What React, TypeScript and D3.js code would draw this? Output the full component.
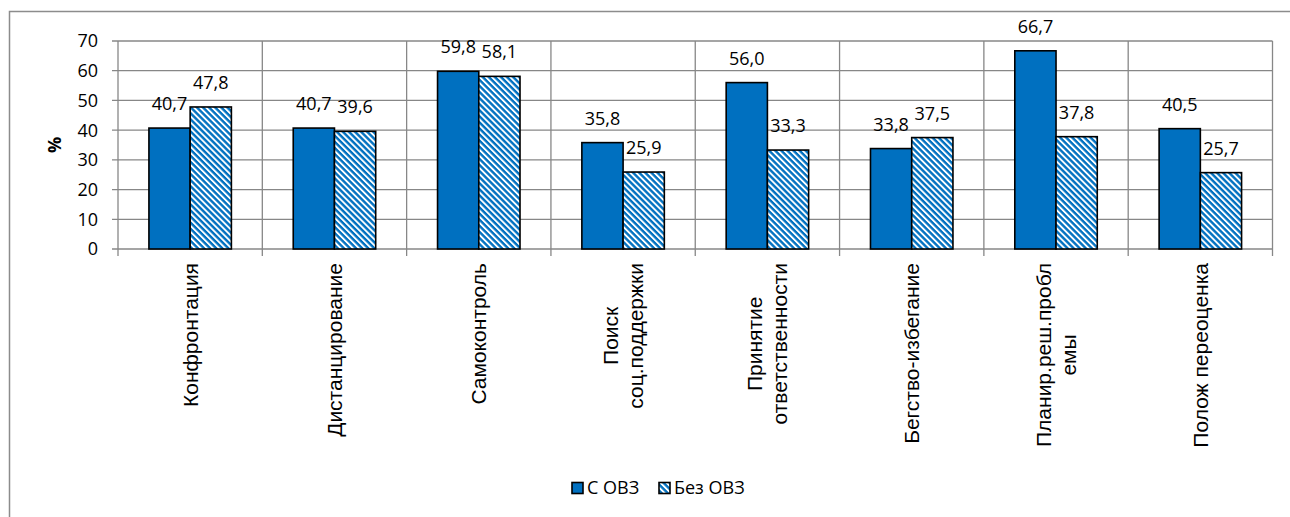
import React, { useEffect, useRef } from "react";
import * as d3 from "d3";

// Coping strategy categories (label lines as wrapped on the axis)
const categories: string[][] = [
  ["Конфронтация"],
  ["Дистанцирование"],
  ["Самоконтроль"],
  ["Поиск", "соц.поддержки"],
  ["Принятие", "ответственности"],
  ["Бегство-избегание"],
  ["Планир.реш.пробл", "емы"],
  ["Полож переоценка"],
];

const seriesNames: string[] = ["С ОВЗ", "Без ОВЗ"];
const withOvz: number[] = [40.7, 40.7, 59.8, 35.8, 56.0, 33.8, 66.7, 40.5];
const withoutOvz: number[] = [47.8, 39.6, 58.1, 25.9, 33.3, 37.5, 37.8, 25.7];
const yTicks: number[] = [0, 10, 20, 30, 40, 50, 60, 70];

const W = 1290;
const H = 517;
const BLUE = "#0070C0";
const GRID = "#878787";
const NUM_FONT = "'Open Sans', 'Noto Sans', sans-serif";
const CAT_FONT = "'Liberation Sans', Arial, sans-serif";

export default function App() {
  const ref = useRef<SVGSVGElement | null>(null);

  useEffect(() => {
    const svg = d3.select(ref.current);
    svg.selectAll("*").remove();

    const left = 118;
    const right = 1272.5;
    const top = 41;
    const bottom = 249;

    const defs = svg.append("defs");
    const pat = defs
      .append("pattern")
      .attr("id", "hatch")
      .attr("patternUnits", "userSpaceOnUse")
      .attr("width", 4.3)
      .attr("height", 4.3)
      .attr("patternTransform", "rotate(45)");
    pat.append("rect").attr("width", 4.3).attr("height", 4.3).attr("fill", "#ffffff");
    pat.append("rect").attr("width", 4.3).attr("height", 2.4).attr("fill", BLUE);

    svg.append("rect").attr("width", W).attr("height", H).attr("fill", "#ffffff");

    // outer frame (left and top edges)
    svg
      .append("path")
      .attr("d", `M9.5,${H} V11.5 H${W}`)
      .attr("fill", "none")
      .attr("stroke", "#8c8c8c")
      .attr("stroke-width", 1.5);

    const x = d3
      .scaleBand<number>()
      .domain(d3.range(categories.length))
      .range([left, right])
      .padding(0);
    const xs = d3
      .scaleBand<number>()
      .domain([0, 1])
      .range([0, x.bandwidth()])
      .paddingInner(0)
      .paddingOuter(0.75);
    const y = d3.scaleLinear().domain([0, 70]).range([bottom, top]);

    const g = svg.append("g");

    // horizontal gridlines + y ticks
    yTicks.forEach((t) => {
      g.append("line")
        .attr("x1", left - 6)
        .attr("x2", right)
        .attr("y1", y(t))
        .attr("y2", y(t))
        .attr("stroke", GRID)
        .attr("stroke-width", 1.3);
      g.append("text")
        .attr("x", 98)
        .attr("y", y(t))
        .attr("dy", "0.36em")
        .attr("text-anchor", "end")
        .attr("font-family", NUM_FONT)
        .attr("font-size", 18)
        .attr("fill", "#000")
        .text(String(t));
    });

    // vertical gridlines at category boundaries, extending as ticks below the axis
    for (let i = 0; i <= categories.length; i++) {
      const bx = i === categories.length ? right : x(i)!;
      g.append("line")
        .attr("x1", bx)
        .attr("x2", bx)
        .attr("y1", top)
        .attr("y2", bottom + 7)
        .attr("stroke", GRID)
        .attr("stroke-width", 1.3);
    }

    // y axis title
    g.append("text")
      .attr("transform", `translate(61,${(top + bottom) / 2}) rotate(-90)`)
      .attr("text-anchor", "middle")
      .attr("font-family", NUM_FONT)
      .attr("font-weight", "bold")
      .attr("font-size", 18)
      .text("%");

    const fmt = (v: number) => d3.format(".1f")(v).replace(".", ",");
    const series = [withOvz, withoutOvz];
    const fills = [BLUE, "url(#hatch)"];

    series.forEach((vals, si) => {
      vals.forEach((v, ci) => {
        const bx = x(ci)! + xs(si)!;
        g.append("rect")
          .attr("x", bx)
          .attr("y", y(v))
          .attr("width", xs.bandwidth())
          .attr("height", y(0) - y(v))
          .attr("fill", fills[si])
          .attr("stroke", "#000")
          .attr("stroke-width", 1.6);
      });
    });

    series.forEach((vals, si) => {
      vals.forEach((v, ci) => {
        const cx = x(ci)! + xs(si)! + xs.bandwidth() / 2;
        g.append("text")
          .attr("x", cx)
          .attr("y", y(v) - 18)
          .attr("text-anchor", "middle")
          .attr("font-family", NUM_FONT)
          .attr("font-size", 18)
          .attr("fill", "#000")
          .text(fmt(v));
      });
    });

    // rotated category labels, lines centred on each other, block ending under the axis
    categories.forEach((lines, ci) => {
      const cx = x(ci)! + x.bandwidth() / 2;
      const lg = g.append("g").attr("transform", `translate(${cx},263) rotate(-90)`);
      const texts = lines.map((ln, li) =>
        lg
          .append("text")
          .attr("y", 7.5 + (li - (lines.length - 1) / 2) * 25)
          .attr("text-anchor", "middle")
          .attr("font-family", CAT_FONT)
          .attr("font-size", 21)
          .attr("fill", "#000")
          .text(ln)
      );
      const maxLen = d3.max(texts, (t) => (t.node() as SVGTextElement).getComputedTextLength()) || 0;
      texts.forEach((t) => t.attr("x", -maxLen / 2));
    });

    // legend
    const lgY = 488;
    const items = [
      { x: 572, fill: BLUE, label: seriesNames[0] },
      { x: 659, fill: "url(#hatch)", label: seriesNames[1] },
    ];
    items.forEach((it) => {
      g.append("rect")
        .attr("x", it.x)
        .attr("y", lgY - 5.5)
        .attr("width", 11)
        .attr("height", 11)
        .attr("fill", it.fill)
        .attr("stroke", "#000")
        .attr("stroke-width", 1.6);
      g.append("text")
        .attr("x", it.x + 15)
        .attr("y", lgY)
        .attr("dy", "0.36em")
        .attr("font-family", NUM_FONT)
        .attr("font-size", 18)
        .attr("fill", "#000")
        .text(it.label);
    });
  }, []);

  return (
    <svg
      ref={ref}
      width={W}
      height={H}
      style={{ position: "absolute", left: 0, top: 0, display: "block" }}
    />
  );
}
